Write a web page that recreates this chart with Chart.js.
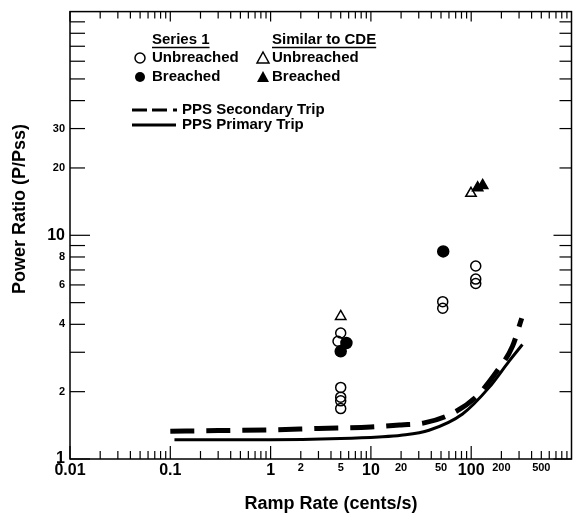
<!DOCTYPE html>
<html><head><meta charset="utf-8">
<script src="https://cdn.jsdelivr.net/npm/chart.js@4/dist/chart.umd.min.js"></script>
<style>html,body{margin:0;padding:0;background:#fff;} canvas{display:block;}</style>
</head><body>
<canvas id="c" width="579" height="518"></canvas>
<script>
// ---- data ----
const s1UnbreachedX = [5, 4.7, 5, 5, 5, 5, 52, 52, 111, 111, 111];
const s1UnbreachedY = [3.66, 3.36, 2.09, 1.89, 1.82, 1.68, 5.05, 4.72, 7.29, 6.37, 6.09];
const s1BreachedX = [5.7, 5.0, 52.6];
const s1BreachedY = [3.3, 3.03, 8.47];
const cdeUnbreachedX = [5.0, 99.5];
const cdeUnbreachedY = [4.34, 15.4];
const cdeBreachedX = [116, 130];
const cdeBreachedY = [16.3, 16.7];
const secondaryX = [0.1, 0.3, 1, 3, 10, 20, 34, 63, 111, 176, 258, 319];
const secondaryY = [1.33, 1.34, 1.35, 1.37, 1.39, 1.42, 1.45, 1.59, 1.89, 2.43, 3.19, 4.26];
const primaryX = [0.11, 1, 5, 12, 20, 38, 82, 151, 239, 324];
const primaryY = [1.22, 1.22, 1.235, 1.255, 1.277, 1.345, 1.59, 2.09, 2.74, 3.25];
const xTickLabels = ['0.01','0.1','1','2','5','10','20','50','100','200','500'];
const yTickLabels = ['1','2','4','6','8','10','20','30'];
const xBigLabels = ['0.01','0.1','1','10','100'];
const yBigLabels = ['1','10'];
const xTitle = 'Ramp Rate (cents/s)';
const yTitle = 'Power Ratio (P/Pss)';
const groupTitles = ['Series 1', 'Similar to CDE'];
const markerNames = ['Unbreached', 'Breached'];
const lineNames = ['PPS Secondary Trip', 'PPS Primary Trip'];

const FONT = '"Liberation Sans", Arial, Helvetica, sans-serif';
const pts = (xs, ys) => xs.map((v, i) => ({x: v, y: ys[i]}));

function drawMarker(ctx, kind, cx, cy) {
  ctx.save();
  ctx.lineWidth = 1.5; ctx.strokeStyle = '#000'; ctx.fillStyle = '#000';
  ctx.beginPath();
  if (kind === 'circle' || kind === 'disc') {
    ctx.arc(cx, cy, 5, 0, Math.PI * 2);
  } else {
    ctx.moveTo(cx, cy - 6); ctx.lineTo(cx + 6, cy + 5); ctx.lineTo(cx - 6, cy + 5); ctx.closePath();
  }
  if (kind === 'disc' || kind === 'tri') ctx.fill(); else ctx.stroke();
  ctx.restore();
}

const framePlugin = {
  id: 'frame',
  afterDraw(chart) {
    const {ctx, chartArea: a, scales: {x, y}} = chart;
    ctx.save();
    ctx.strokeStyle = '#000';
    ctx.lineWidth = 1.5;
    ctx.strokeRect(a.left, a.top, a.right - a.left, a.bottom - a.top);
    ctx.lineWidth = 1.2;
    const seg = (x1, y1, x2, y2) => { ctx.beginPath(); ctx.moveTo(x1, y1); ctx.lineTo(x2, y2); ctx.stroke(); };
    for (let e = -2; e <= 2; e++) for (let m = 1; m <= 9; m++) {
      const px = x.getPixelForValue(m * Math.pow(10, e));
      const dec = m === 1;
      seg(px, a.bottom, px, a.bottom - (dec ? 13 : 8));
      seg(px, a.top, px, a.top + (dec ? 10 : 7));
    }
    for (let e = 0; e <= 1; e++) for (let m = 1; m <= 9; m++) {
      const py = y.getPixelForValue(m * Math.pow(10, e));
      const dec = m === 1;
      seg(a.left, py, a.left + (dec ? 20 : 15), py);
      seg(a.right, py, a.right - (dec ? 18 : 12), py);
    }
    // axis titles
    ctx.fillStyle = '#000';
    ctx.font = 'bold 18px ' + FONT;
    ctx.textAlign = 'center'; ctx.textBaseline = 'middle';
    ctx.fillText(xTitle, 331, 504);
    ctx.save();
    ctx.translate(20, 209); ctx.rotate(-Math.PI / 2);
    ctx.fillText(yTitle, 0, 0);
    ctx.restore();
    // legend
    ctx.font = 'bold 15px ' + FONT;
    ctx.textAlign = 'left';
    const gx = [152, 272];
    groupTitles.forEach((t, i) => {
      ctx.fillText(t, gx[i], 40);
      const w = ctx.measureText(t).width;
      ctx.lineWidth = 1.3;
      seg(gx[i], 47.5, gx[i] + w, 47.5);
    });
    ctx.fillText(markerNames[0], 152, 58);
    ctx.fillText(markerNames[1], 152, 77);
    ctx.fillText(markerNames[0], 272, 58);
    ctx.fillText(markerNames[1], 272, 77);
    drawMarker(ctx, 'circle', 140, 58);
    drawMarker(ctx, 'disc', 140, 77);
    drawMarker(ctx, 'open', 263, 58);
    drawMarker(ctx, 'tri', 263, 77);
    ctx.lineWidth = 3;
    seg(132, 110, 147, 110); seg(152, 110, 167, 110); seg(173, 110, 177, 110);
    seg(132, 125, 176, 125);
    ctx.fillText(lineNames[0], 182, 110);
    ctx.fillText(lineNames[1], 182, 125);
    ctx.restore();
  }
};

const scatterBase = {type: 'scatter', showLine: false, borderColor: '#000', pointBorderWidth: 1.5};

new Chart(document.getElementById('c'), {
  type: 'scatter',
  data: {
    datasets: [
      Object.assign({}, scatterBase, {label: 'Series 1 Unbreached', data: pts(s1UnbreachedX, s1UnbreachedY), pointStyle: 'circle', pointRadius: 5, backgroundColor: 'rgba(0,0,0,0)', pointBackgroundColor: 'rgba(0,0,0,0)'}),
      Object.assign({}, scatterBase, {label: 'Series 1 Breached', data: pts(s1BreachedX, s1BreachedY), pointStyle: 'circle', pointRadius: 5.5, backgroundColor: '#000', pointBackgroundColor: '#000'}),
      Object.assign({}, scatterBase, {label: 'CDE Unbreached', data: pts(cdeUnbreachedX, cdeUnbreachedY), pointStyle: 'triangle', pointRadius: 6, backgroundColor: 'rgba(0,0,0,0)', pointBackgroundColor: 'rgba(0,0,0,0)'}),
      Object.assign({}, scatterBase, {label: 'CDE Breached', data: pts(cdeBreachedX, cdeBreachedY), pointStyle: 'triangle', pointRadius: 6, backgroundColor: '#000', pointBackgroundColor: '#000'}),
      {type: 'line', label: lineNames[0], data: pts(secondaryX, secondaryY), borderColor: '#000', borderWidth: 5, borderDash: [24, 12], pointRadius: 0, cubicInterpolationMode: 'monotone', fill: false},
      {type: 'line', label: lineNames[1], data: pts(primaryX, primaryY), borderColor: '#000', borderWidth: 3, pointRadius: 0, cubicInterpolationMode: 'monotone', fill: false}
    ]
  },
  options: {
    responsive: false,
    animation: false,
    devicePixelRatio: 1,
    layout: {padding: {top: 8, right: 6, left: 0, bottom: 0}},
    plugins: {legend: {display: false}, tooltip: {enabled: false}},
    scales: {
      x: {
        type: 'logarithmic', min: 0.01, max: 1000,
        grid: {display: false, drawTicks: false}, border: {display: false},
        afterBuildTicks: s => { s.ticks = xTickLabels.map(l => ({value: Number(l)})); },
        afterFit: s => { s.height = 59; },
        ticks: {
          autoSkip: false, maxRotation: 0, padding: 2, color: '#000',
          callback: v => xTickLabels.find(l => Number(l) === v) ?? '',
          font: c => ({family: FONT, weight: 'bold', size: xBigLabels.map(Number).includes(c.tick && c.tick.value) ? 16 : 11})
        }
      },
      y: {
        type: 'logarithmic', min: 1, max: 100,
        grid: {display: false, drawTicks: false}, border: {display: false},
        afterBuildTicks: s => { s.ticks = yTickLabels.map(l => ({value: Number(l)})); },
        afterFit: s => { s.width = 70; },
        ticks: {
          autoSkip: false, padding: 5, color: '#000',
          callback: v => yTickLabels.find(l => Number(l) === v) ?? '',
          font: c => ({family: FONT, weight: 'bold', size: yBigLabels.map(Number).includes(c.tick && c.tick.value) ? 16 : 11})
        }
      }
    }
  },
  plugins: [framePlugin]
});
</script>
</body></html>
